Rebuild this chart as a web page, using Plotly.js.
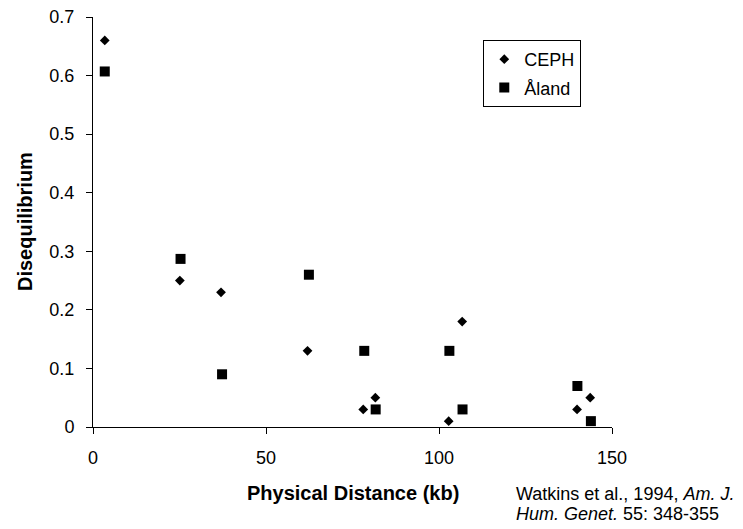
<!DOCTYPE html>
<html>
<head>
<meta charset="utf-8">
<script src="https://cdn.plot.ly/plotly-3.0.1.min.js"></script>
<style>html,body{margin:0;padding:0;background:#fff;}#chart{width:743px;height:529px;}</style>
</head>
<body>
<div id="chart"></div>
<script>
const cephX = [3.4, 25.1, 37, 62, 78.1, 81.6, 102.8, 106.7, 139.9, 143.7];
const cephY = [0.66, 0.25, 0.23, 0.13, 0.03, 0.05, 0.01, 0.18, 0.03, 0.05];
const alandX = [3.4, 25.3, 37.3, 62.4, 78.4, 81.7, 103, 106.8, 140, 143.9];
const alandY = [0.607, 0.287, 0.09, 0.26, 0.13, 0.03, 0.13, 0.03, 0.07, 0.01];
const seriesNames = ["CEPH", "Åland"];
const xTicks = [0, 50, 100, 150];
const yTicks = [0, 0.1, 0.2, 0.3, 0.4, 0.5, 0.6, 0.7];

const font = "Liberation Sans, Arial, sans-serif";
const traces = [
  {x: cephX, y: cephY, name: seriesNames[0], type: "scatter", mode: "markers", legendgroup: "a",
   marker: {symbol: "diamond", size: 7.5, color: "#000"}},
  {x: alandX, y: alandY, name: seriesNames[1], type: "scatter", mode: "markers", legendgroup: "b",
   marker: {symbol: "square", size: 10, color: "#000"}}
];
const layout = {
  width: 743, height: 529,
  margin: {l: 93, r: 131, t: 17, b: 102},
  paper_bgcolor: "#fff", plot_bgcolor: "#fff",
  font: {family: font, size: 18, color: "#000"},
  showlegend: true,
  legend: {x: 0.752, y: 0.944, xanchor: "left", yanchor: "top",
           bordercolor: "#000", borderwidth: 1, bgcolor: "#fff",
           font: {family: font, size: 18, color: "#000"},
           itemwidth: 30, tracegroupgap: 2, traceorder: "grouped"},
  xaxis: {range: [0, 150], tickvals: xTicks, ticktext: xTicks.map(String),
          showgrid: false, zeroline: false, showline: true, linecolor: "#000", linewidth: 1,
          ticks: "outside", ticklen: 6, tickcolor: "#000", ticklabelstandoff: 8,
          tickfont: {family: font, size: 18, color: "#000"}},
  yaxis: {range: [0, 0.7], tickvals: yTicks, ticktext: yTicks.map(String),
          showgrid: false, zeroline: false, showline: true, linecolor: "#000", linewidth: 1,
          ticks: "outside", ticklen: 6, tickcolor: "#000", ticklabelstandoff: 8,
          tickfont: {family: font, size: 18, color: "#000"}},
  annotations: [
    {text: "<b>Disequilibrium</b>", xref: "paper", yref: "paper", x: -0.131, y: 0.5,
     xanchor: "center", yanchor: "middle", textangle: -90, showarrow: false,
     font: {family: font, size: 20, color: "#000"}},
    {text: "<b>Physical Distance (kb)</b>", xref: "paper", yref: "paper", x: 0.5, y: -0.16,
     xanchor: "center", yanchor: "middle", showarrow: false,
     font: {family: font, size: 20, color: "#000"}},
    {text: "Watkins et al., 1994, <i>Am. J.</i>",
     xref: "paper", yref: "paper", x: 0.812, y: -0.163, xanchor: "left", yanchor: "middle",
     align: "left", showarrow: false,
     font: {family: font, size: 18, color: "#000"}},
    {text: "<i>Hum. Genet.</i> 55: 348-355",
     xref: "paper", yref: "paper", x: 0.812, y: -0.212, xanchor: "left", yanchor: "middle",
     align: "left", showarrow: false,
     font: {family: font, size: 18, color: "#000"}}
  ]
};
Plotly.newPlot("chart", traces, layout, {displayModeBar: false, staticPlot: true});
</script>
</body>
</html>
